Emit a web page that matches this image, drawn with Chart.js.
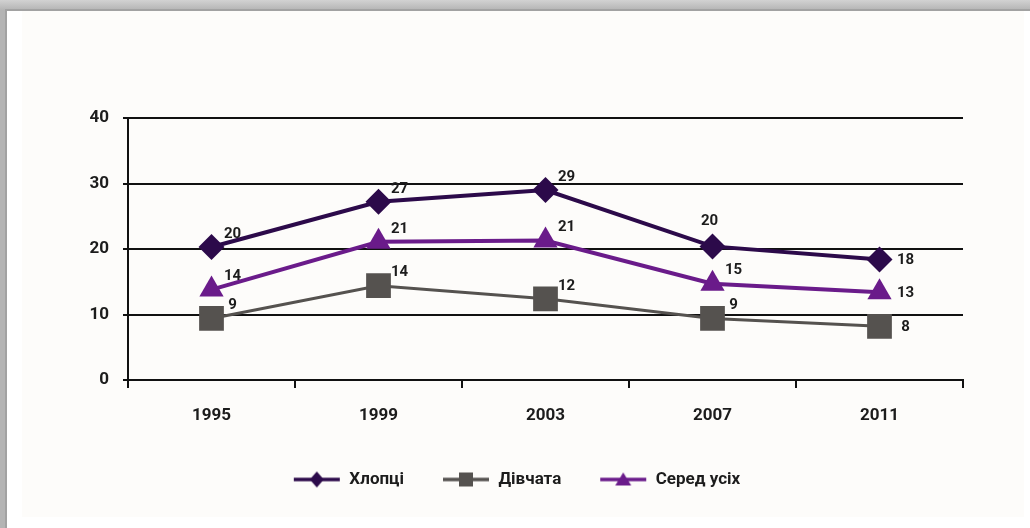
<!DOCTYPE html>
<html>
<head>
<meta charset="utf-8">
<script src="https://cdn.jsdelivr.net/npm/chart.js@4.4.1/dist/chart.umd.min.js"></script>
<style>
    html, body { margin: 0; padding: 0; overflow: hidden; }
    html { background: #ffffff; }
    body {
        height: 528px; position: relative;
        background: linear-gradient(#d2d2d2, #b4b4b4 10px);
    }
    #card {
        position: absolute; left: 5px; top: 9px; right: -20px; height: 600px;
        background: #ffffff; border-left: 2px solid #a2a2a2; border-top: 2px solid #a2a2a2;
    }
    #inner {
        position: absolute; left: 22px; top: 11px; width: 1002px; height: 506px;
        background: #fdfcfa;
    }
    #chart { position: absolute; left: 0; top: 0; }
</style>
</head>
<body>
<div id="card"></div>
<div id="inner"></div>
<canvas id="chart" width="1030" height="528"></canvas>
<script>
// Data
const years = ['1995', '1999', '2003', '2007', '2011'];
const boys = [20.3, 27.2, 29.0, 20.4, 18.4];
const girls = [9.4, 14.4, 12.4, 9.4, 8.2];
const overall = [13.8, 21.1, 21.3, 14.7, 13.4];
const yTicks = [0, 10, 20, 30, 40];

// where each value label sits relative to its point
const boysLabelSide = ['ne', 'ne', 'ne', 'n', 'e'];
const girlsLabelSide = ['ne', 'ne', 'ne', 'ne', 'e'];
const overallLabelSide = ['ne', 'ne', 'ne', 'ne', 'e'];

const FONT = 'Roboto, "Liberation Sans", sans-serif';
const TEXT = '#1c1c1c';

const colors = {
    boys: '#2c0a4a',
    girls: '#55524f',
    overall: '#6a1b8a'
};

// small legend icon: a line with the series marker in the middle
function legendIcon(color, shape) {
    const c = document.createElement('canvas');
    c.width = 48; c.height = 18;
    const g = c.getContext('2d');
    g.strokeStyle = color;
    g.lineWidth = 3.5;
    g.beginPath();
    g.moveTo(1, 9); g.lineTo(47, 9);
    g.stroke();
    g.fillStyle = color;
    g.beginPath();
    if (shape === 'diamond') {
        g.moveTo(24, 1); g.lineTo(31, 9); g.lineTo(24, 17); g.lineTo(17, 9);
    } else if (shape === 'square') {
        g.rect(17, 2, 14, 14);
    } else {
        g.moveTo(24, 2); g.lineTo(32, 15); g.lineTo(16, 15);
    }
    g.closePath();
    g.fill();
    return c;
}

const valueLabels = {
    id: 'valueLabels',
    afterDatasetsDraw(chart) {
        const ctx = chart.ctx;
        ctx.save();
        ctx.font = 'bold 15px ' + FONT;
        ctx.fillStyle = TEXT;
        ctx.textAlign = 'center';
        ctx.textBaseline = 'middle';
        chart.data.datasets.forEach((ds, i) => {
            const meta = chart.getDatasetMeta(i);
            meta.data.forEach((pt, j) => {
                const side = ds.labelSide[j];
                let dx = 21, dy = -13;
                if (side === 'n') { dx = -3; dy = -25; }
                if (side === 'e') { dx = 26; dy = 1; }
                ctx.fillText(String(Math.round(ds.data[j])), pt.x + dx, pt.y + dy);
            });
        });
        ctx.restore();
    }
};

new Chart(document.getElementById('chart'), {
    type: 'line',
    data: {
        labels: years,
        datasets: [
            {
                label: 'Хлопці',
                data: boys,
                labelSide: boysLabelSide,
                borderColor: colors.boys,
                backgroundColor: colors.boys,
                borderWidth: 4,
                pointStyle: 'rectRot',
                pointRadius: 13,
                pointBorderWidth: 0,
                icon: legendIcon(colors.boys, 'diamond')
            },
            {
                label: 'Дівчата',
                data: girls,
                labelSide: girlsLabelSide,
                borderColor: colors.girls,
                backgroundColor: colors.girls,
                borderWidth: 3,
                pointStyle: 'rect',
                pointRadius: 17.5,
                pointBorderWidth: 0,
                icon: legendIcon(colors.girls, 'square')
            },
            {
                label: 'Серед усіх',
                data: overall,
                labelSide: overallLabelSide,
                borderColor: colors.overall,
                backgroundColor: colors.overall,
                borderWidth: 4,
                pointStyle: 'triangle',
                pointRadius: 14,
                pointBorderWidth: 0,
                icon: legendIcon(colors.overall, 'triangle')
            }
        ]
    },
    options: {
        responsive: false,
        animation: false,
        devicePixelRatio: 1,
        layout: { padding: { left: 70, right: 67, top: 118, bottom: 30 } },
        scales: {
            x: {
                offset: true,
                grid: {
                    offset: true,
                    drawOnChartArea: false,
                    color: '#111',
                    lineWidth: 2,
                    tickLength: 8
                },
                border: { color: '#111', width: 2 },
                ticks: {
                    padding: 18,
                    color: TEXT,
                    font: { family: FONT, size: 17, weight: 'bold' }
                },
                afterFit(scale) { scale.height = 53; }
            },
            y: {
                min: 0,
                max: 40,
                afterBuildTicks(scale) { scale.ticks = yTicks.map(v => ({ value: v })); },
                grid: { color: '#111', lineWidth: 2, tickLength: 5 },
                border: { color: '#111', width: 2 },
                ticks: {
                    padding: 14,
                    color: TEXT,
                    font: { family: FONT, size: 17, weight: 'bold' }
                },
                afterFit(scale) { scale.width = 58; }
            }
        },
        plugins: {
            legend: {
                position: 'bottom',
                labels: {
                    usePointStyle: true,
                    pointStyleWidth: 48,
                    boxHeight: 17,
                    padding: 38,
                    color: TEXT,
                    font: { family: FONT, size: 17, weight: 'bold' },
                    generateLabels(chart) {
                        return chart.data.datasets.map((ds, i) => ({
                            text: ds.label,
                            pointStyle: ds.icon,
                            fillStyle: ds.borderColor,
                            strokeStyle: ds.borderColor,
                            lineWidth: 0,
                            fontColor: TEXT,
                            datasetIndex: i,
                            hidden: false
                        }));
                    }
                }
            },
            tooltip: { enabled: false }
        }
    },
    plugins: [valueLabels]
});
</script>
</body>
</html>
